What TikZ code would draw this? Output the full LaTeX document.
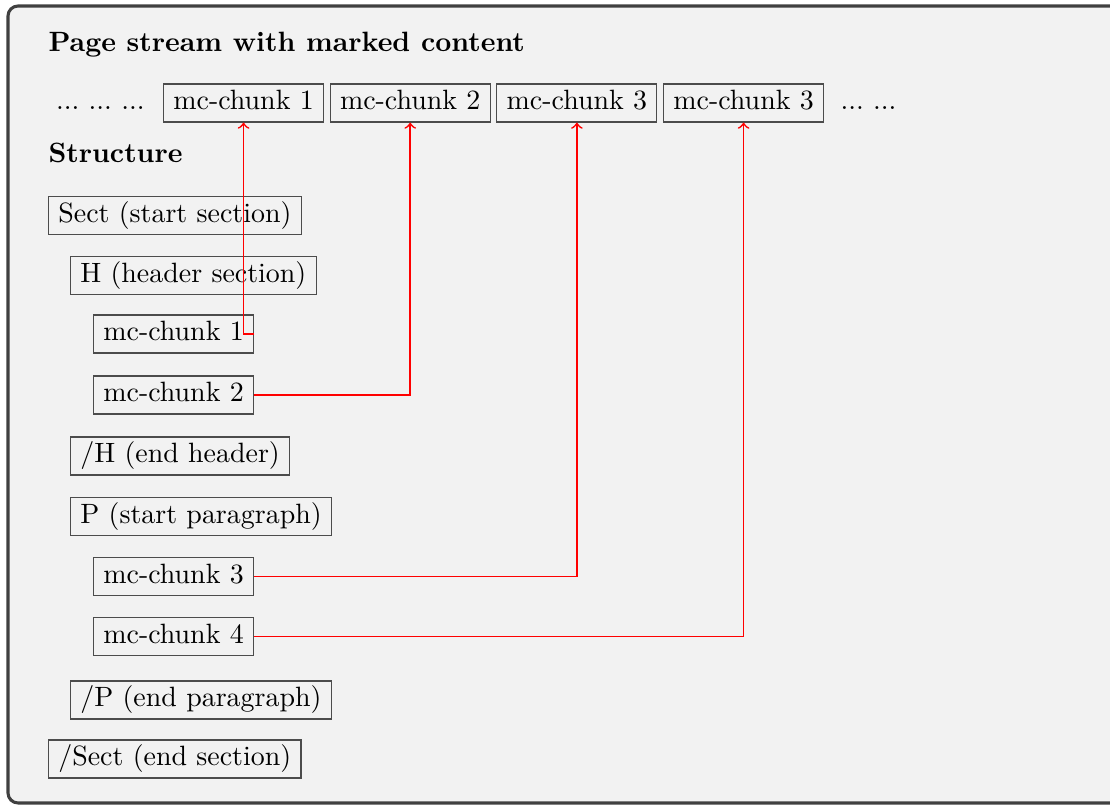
\documentclass[tikz,border=0pt]{standalone}
\usetikzlibrary{positioning}

\tikzset{
  chunk/.style={draw=black!70, line width=0.4pt, inner xsep=3.5pt, inner ysep=2pt,
    text height=7.2pt, text depth=2.4pt, anchor=west},
  heading/.style={anchor=base west, inner sep=0pt, font=\bfseries},
  link/.style={red, line width=0.6pt, ->}
}

\begin{document}
\begin{tikzpicture}[x=0.358pt, y=-0.358pt]
    \useasboundingbox (0,0) rectangle (1110,805);
    \draw[draw=black!75, line width=1.1pt, fill=black!5, rounded corners=3.6pt] (8,6) rectangle (1130,803);

    \node[heading] (title) at (48,52) {Page stream with marked content};

    % page stream
    \node[chunk] (t1) at (163,103) {mc-chunk 1};
    \node[chunk, right=2pt of t1] (t2) {mc-chunk 2};
    \node[chunk, right=2pt of t2] (t3) {mc-chunk 3};
    \node[chunk, right=2pt of t3] (t4) {mc-chunk 3};
    \node[left=6.4pt of t1.base west, anchor=base east, inner sep=0pt] (dotsL) {...\ ...\ ...};
    \node[right=5.7pt of t4.base east, anchor=base west, inner sep=0pt] (dotsR) {...\ ...};

    \node[heading] (structure) at (48,163) {Structure};

    % structure tree
    \node[chunk] (sect) at (48,215.5) {Sect (start section)};
    \node[chunk] (h) at (70,275.5) {H (header section)};
    \node[chunk] (s1) at (93,334) {mc-chunk 1};
    \node[chunk] (s2) at (93,395) {mc-chunk 2};
    \node[chunk] (hend) at (70,456) {/H (end header)};
    \node[chunk] (p) at (70,516.5) {P (start paragraph)};
    \node[chunk] (s3) at (93,576.5) {mc-chunk 3};
    \node[chunk] (s4) at (93,636.5) {mc-chunk 4};
    \node[chunk] (pend) at (70,700) {/P (end paragraph)};
    \node[chunk] (sectend) at (48,759) {/Sect (end section)};

    \draw[link] (s1.east) -| (t1.south);
    \draw[link] (s2.east) -| (t2.south);
    \draw[link] (s3.east) -| (t3.south);
    \draw[link] (s4.east) -| (t4.south);

\end{tikzpicture}
\end{document}
